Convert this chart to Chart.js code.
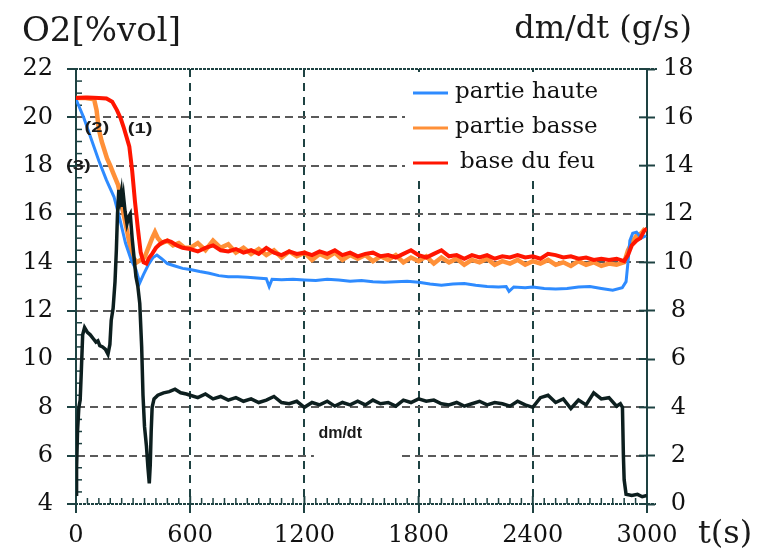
<!DOCTYPE html>
<html>
<head>
<meta charset="utf-8">
<script src="https://cdn.jsdelivr.net/npm/chart.js@4.4.1/dist/chart.umd.min.js"></script>
<style>
  html, body { margin: 0; padding: 0; background: #fff; }
</style>
</head>
<body>
<canvas id="o2Chart" width="761" height="552"></canvas>
<script>
// temps (s) et O2 (%vol)
const hauteT = [0,40,80,120,160,200,230,260,290,315,335,355,380,405,425,450,480,520,560,600,650,700,750,800,850,900,950,1000,1015,1030,1080,1140,1200,1260,1320,1380,1440,1500,1560,1620,1680,1740,1800,1860,1920,1980,2040,2100,2160,2220,2260,2275,2300,2360,2400,2460,2520,2580,2640,2700,2760,2820,2870,2890,2900,2910,2925,2945,2970,2995];
const hauteO2 = [20.75,20.0,19.1,18.2,17.4,16.7,15.8,14.8,14.1,13.7,13.15,13.5,13.9,14.2,14.3,14.15,13.95,13.85,13.75,13.7,13.62,13.55,13.45,13.4,13.4,13.38,13.35,13.32,13.0,13.3,13.28,13.3,13.27,13.25,13.3,13.27,13.22,13.25,13.2,13.18,13.2,13.22,13.18,13.1,13.05,13.1,13.12,13.05,13.0,12.98,13.0,12.8,12.98,12.95,12.98,12.92,12.9,12.92,12.98,13.0,12.92,12.85,12.95,13.2,14.0,14.9,15.2,15.25,15.0,15.1];

const basseT = [0,50,95,108,120,135,163,180,195,221,235,250,268,285,300,320,340,360,380,400,415,430,452,480,510,540,570,
  600,640,680,720,760,800,840,880,920,960,1000,1040,1080,1120,1160,1200,1240,1280,1320,1360,1400,1440,1480,1520,1560,1600,1640,1680,1720,1760,1800,1840,1880,1920,1960,2000,2040,2080,2120,2160,2200,2240,2280,2320,2360,2400,2440,2480,2520,2560,2600,2640,2680,2720,2760,2800,2840,2880,
  2900,2920,2945,2970,2990];
const basseO2 = [20.8,20.8,20.75,20.3,19.5,19.0,18.3,18.0,17.7,17.2,16.7,16.0,15.3,14.6,14.2,14.0,14.1,14.2,14.6,15.0,15.25,15.0,14.8,14.9,14.7,14.8,14.6,
  14.6,14.8,14.5,14.9,14.6,14.75,14.4,14.6,14.35,14.55,
  14.3,14.5,14.2,14.45,14.25,14.4,14.1,14.35,14.2,14.4,
  14.1,14.3,14.15,14.3,14.05,14.25,14.1,14.3,14.0,14.2,
  14.05,14.25,13.95,14.2,14.0,14.15,13.9,14.1,14.0,14.15,
  13.9,14.05,13.95,14.1,13.9,14.05,13.95,14.1,13.9,14.0,
  13.85,14.05,13.9,14.0,13.85,13.95,13.9,14.0,
  14.5,14.8,15.1,15.2,15.4];

const feuT = [0,60,120,160,190,215,235,250,265,280,295,310,325,340,355,370,385,400,420,440,460,480,500,530,560,
  600,640,680,720,760,800,840,880,920,960,1000,1040,1080,1120,1160,1200,1240,1280,1320,1360,1400,1440,1480,1520,1560,1600,1640,1680,1720,1760,1800,1840,1880,1920,1960,2000,2040,2080,2120,2160,2200,2240,2280,2320,2360,2400,2440,2480,2520,2560,2600,2640,2680,2720,2760,2800,2840,2880,
  2900,2920,2945,2965,2985,3000];
const feuO2 = [20.8,20.82,20.8,20.78,20.65,20.3,19.95,19.6,19.2,18.8,17.8,16.5,15.4,14.4,14.0,13.95,14.2,14.35,14.6,14.75,14.85,14.9,14.85,14.7,14.6,
  14.55,14.45,14.6,14.7,14.5,14.45,14.55,14.4,14.5,14.35,
  14.6,14.4,14.3,14.45,14.35,14.4,14.3,14.45,14.35,14.5,
  14.3,14.4,14.25,14.35,14.4,14.25,14.3,14.2,14.35,14.5,
  14.3,14.2,14.35,14.5,14.25,14.3,14.15,14.3,14.2,14.3,
  14.15,14.25,14.2,14.3,14.2,14.25,14.15,14.35,14.3,14.2,
  14.25,14.15,14.2,14.1,14.15,14.1,14.15,14.05,
  14.3,14.7,14.9,15.0,15.3,15.4];

// débit massique dm/dt (g/s), axe de droite
const dmdtT = [0,3,8,15,22,28,35,45,60,75,90,105,115,125,140,155,168,178,185,195,205,212,218,225,232,238,244,250,258,268,278,285,295,305,315,325,335,345,352,360,370,378,385,390,395,400,410,430,460,490,520,550,580,
  600,640,680,720,760,800,840,880,920,960,1000,1040,1080,1120,1160,1200,1240,1280,1320,1360,1400,1440,1480,1520,1560,1600,1640,1680,1720,1760,1800,1840,1880,1920,1960,2000,2040,2080,2120,2160,2200,2240,2280,2320,2360,2400,2440,2480,2520,2560,2600,2640,2680,2720,2760,2800,2840,
  2860,2871,2876,2880,2890,2920,2950,2975,3000];
const dmdtV = [0.4,1.5,3.0,4.0,4.3,5.5,7.0,7.3,7.1,7.0,6.85,6.7,6.75,6.55,6.5,6.4,6.2,6.6,7.6,8.1,9.2,10.5,12.0,13.0,12.6,12.9,12.3,12.7,12.1,11.6,11.9,12.0,11.0,10.2,9.4,9.0,8.3,6.5,4.5,3.2,2.4,1.5,0.85,1.6,3.0,4.0,4.35,4.5,4.6,4.65,4.75,4.6,4.55,
  4.5,4.4,4.55,4.35,4.45,4.3,4.4,4.25,4.35,4.2,
  4.3,4.45,4.2,4.15,4.25,4.0,4.2,4.1,4.25,4.05,
  4.2,4.1,4.25,4.1,4.3,4.15,4.2,4.05,4.3,4.2,
  4.35,4.25,4.3,4.15,4.1,4.2,4.05,4.15,4.25,4.1,
  4.2,4.15,4.05,4.25,4.1,4.0,4.4,4.5,4.2,4.35,
  3.95,4.3,4.1,4.6,4.35,4.4,4.05,
  4.15,4.0,2.0,1.0,0.4,0.35,0.4,0.3,0.35];

const timeTicks = [0, 600, 1200, 1800, 2400, 3000];
const o2Ticks = [4, 6, 8, 10, 12, 14, 16, 18, 20, 22];
const dmdtTicks = [0, 2, 4, 6, 8, 10, 12, 14, 16, 18];

const gridDark = '#1e4242';
const gridGrey = '#5a5a5a';
const serif = '"DejaVu Serif", "Liberation Serif", serif';
const tickFont = { family: serif, size: 24 };

function series(ts, vs) {
    return ts.map((t, i) => ({ x: t, y: vs[i] }));
}

function setTicks(list) {
    return scale => { scale.ticks = list.map(v => ({ value: v })); };
}

const decor = {
    id: 'decor',
    beforeDraw(chart) {
        const c = chart.ctx;
        c.save();
        c.fillStyle = '#fff';
        c.fillRect(0, 0, chart.width, chart.height);
        c.restore();
    },
    beforeDatasetsDraw(chart) {
        const { ctx, chartArea: a, scales: { x, y, y1 } } = chart;
        const line = (x1, y1_, x2, y2) => { ctx.beginPath(); ctx.moveTo(x1, y1_); ctx.lineTo(x2, y2); ctx.stroke(); };
        ctx.save();

        // fond blanc sous la légende et sous l'étiquette dm/dt (coupe la grille)
        ctx.fillStyle = '#fff';
        ctx.fillRect(a.right - 242, a.top + 3, 240, 108);
        const lx1 = x.getPixelForValue(1250), lx2 = x.getPixelForValue(1700);
        const ly1 = y.getPixelForValue(7.4), ly2 = y.getPixelForValue(5.7);
        ctx.fillRect(lx1, ly1, lx2 - lx1, ly2 - ly1);

        // cadre haut / bas
        ctx.strokeStyle = gridDark;
        ctx.lineWidth = 2;
        ctx.setLineDash([3, 1]);
        line(a.left - 9, a.top, a.right + 10, a.top);
        line(a.left - 9, a.bottom, a.right + 9, a.bottom);
        ctx.setLineDash([]);

        // petites graduations
        ctx.lineWidth = 1.5;
        for (let t = 60; t < 3000; t += 60) {
            if (t % 600 === 0) continue;
            const px = x.getPixelForValue(t);
            line(px, a.bottom, px, a.bottom - 6);
        }
        for (let v = 4.5; v < 22; v += 0.5) {
            if (v % 2 === 0) continue;
            const py = y.getPixelForValue(v);
            line(a.left, py, a.left + 6, py);
        }
        ctx.lineWidth = 2;
        dmdtTicks.forEach(v => {
            const py = y1.getPixelForValue(v);
            line(a.right - 8, py, a.right, py);
        });
        timeTicks.forEach(v => {
            const px = x.getPixelForValue(v);
            line(px, a.bottom - 8, px, a.bottom);
        });

        // légende
        const rows = chart.data.datasets.filter(d => d.legendRow !== undefined)
            .sort((p, q) => p.legendRow - q.legendRow);
        ctx.font = '23px ' + serif;
        ctx.textBaseline = 'alphabetic';
        rows.forEach((d, i) => {
            const ry = a.top + 24 + i * 35;
            ctx.strokeStyle = d.borderColor;
            ctx.lineWidth = 3;
            line(a.right - 234, ry, a.right - 199, ry);
            ctx.fillStyle = '#111';
            ctx.fillText(d.label, a.right - 192 + (i === 2 ? 5 : 0), ry + 5);
        });
        ctx.restore();
    },
    afterDatasetsDraw(chart) {
        const { ctx, scales: { x, y } } = chart;
        ctx.save();
        ctx.fillStyle = '#1a1a1a';

        // titres d'axes
        ctx.textBaseline = 'alphabetic';
        ctx.textAlign = 'left';
        ctx.font = '34px ' + serif;
        ctx.fillText('O2[%vol]', 22, 41);
        ctx.font = '32px ' + serif;
        ctx.textAlign = 'right';
        ctx.fillText('dm/dt (g/s)', 692, 38);
        ctx.textAlign = 'left';
        ctx.fillText('t(s)', 698, 543);

        // repères (1) (2) (3)
        ctx.font = 'bold 15px "Liberation Sans", Arial, sans-serif';
        ctx.textAlign = 'center';
        ctx.textBaseline = 'middle';
        [['(1)', 337, 19.52], ['(2)', 110, 19.56], ['(3)', 12, 17.99]].forEach(([txt, t, v]) => {
            ctx.save();
            ctx.translate(x.getPixelForValue(t), y.getPixelForValue(v));
            ctx.scale(1.35, 1);
            ctx.fillText(txt, 0, 0);
            ctx.restore();
        });

        ctx.font = 'bold 16px "Liberation Sans", Arial, sans-serif';
        ctx.fillText('dm/dt', x.getPixelForValue(1388), y.getPixelForValue(6.9));
        ctx.restore();
    }
};

const ctx = document.getElementById('o2Chart').getContext('2d');

const o2Chart = new Chart(ctx, {
    type: 'line',
    data: {
        datasets: [
            { label: 'dm/dt', data: series(dmdtT, dmdtV), borderColor: '#0d1f1f', borderWidth: 3.5, yAxisID: 'y1', order: 0 },
            { label: 'base du feu', data: series(feuT, feuO2), borderColor: '#ff1500', borderWidth: 4, yAxisID: 'y', order: 1, legendRow: 2 },
            { label: 'partie haute', data: series(hauteT, hauteO2), borderColor: '#2e8bff', borderWidth: 3, yAxisID: 'y', order: 2, legendRow: 0 },
            { label: 'partie basse', data: series(basseT, basseO2), borderColor: '#ff9038', borderWidth: 4.5, yAxisID: 'y', order: 3, legendRow: 1 }
        ]
    },
    options: {
        responsive: false,
        animation: false,
        layout: { padding: { top: 69 } },
        elements: { point: { radius: 0 }, line: { tension: 0 } },
        plugins: { legend: { display: false }, tooltip: { enabled: false } },
        scales: {
            x: {
                type: 'linear', min: 0, max: 3000,
                afterBuildTicks: setTicks(timeTicks),
                afterFit: s => { s.height = 48; },
                ticks: { font: tickFont, color: '#111', padding: 8, maxRotation: 0, autoSkip: false, callback: v => String(v) },
                grid: {
                    color: c => (c.tick && c.tick.value > 0 && c.tick.value < 3000) ? gridDark : 'rgba(0,0,0,0)',
                    lineWidth: 2, tickLength: 9, tickColor: gridDark, tickWidth: 2
                },
                border: { display: false, dash: [8, 6] }
            },
            y: {
                position: 'left', min: 4, max: 22,
                afterBuildTicks: setTicks(o2Ticks),
                afterFit: s => { s.width = 76; },
                ticks: { font: tickFont, color: '#111', padding: 14 },
                grid: {
                    color: c => (c.tick && (c.tick.value === 22 || c.tick.value === 4)) ? 'rgba(0,0,0,0)' : gridGrey,
                    lineWidth: 2, tickLength: 9, tickColor: gridDark, tickWidth: 2
                },
                border: { display: true, color: gridDark, width: 2, dash: [8, 5] }
            },
            y1: {
                position: 'right', min: 0, max: 18,
                afterBuildTicks: setTicks(dmdtTicks),
                afterFit: s => { s.width = 114; },
                ticks: { font: tickFont, color: '#111', padding: 8, crossAlign: 'center' },
                grid: { drawOnChartArea: false, tickLength: 8, tickColor: gridDark, tickWidth: 2 },
                border: { display: true, color: gridDark, width: 2 }
            }
        }
    },
    plugins: [decor]
});
</script>
</body>
</html>
